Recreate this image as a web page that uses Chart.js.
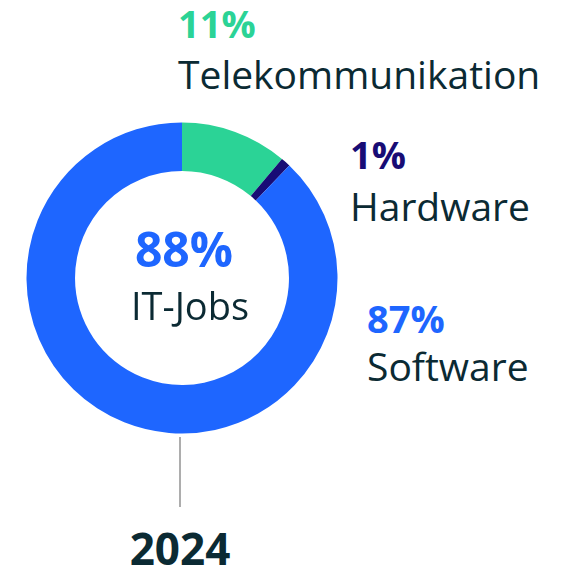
<!DOCTYPE html>
<html>
<head>
<meta charset="utf-8">
<script src="https://cdn.jsdelivr.net/npm/chart.js@4.4.1/dist/chart.umd.min.js"></script>
<style>
  html, body { margin: 0; padding: 0; background: #fff; }
  body { width: 572px; height: 566px; position: relative; overflow: hidden; font-family: "Open Sans", "Noto Sans", sans-serif; color: #0b2a33; }
  #wrap { position: absolute; left: 22px; top: 118px; width: 320px; height: 320px; }
  .lbl { position: absolute; line-height: 1; white-space: nowrap; }
  #tick { position: absolute; left: 179px; top: 437px; width: 2px; height: 70px; background: #adadad; }
</style>
</head>
<body>
<div id="wrap"><canvas id="donut"></canvas></div>
<div id="tick"></div>

<script>
// data
const categories = ['Telekommunikation', 'Hardware', 'Software'];
const shares = [11, 1, 87];
const colors = ['#2bd396', '#180c75', '#1e66ff'];
const totalLabel = '88%';
const totalName = 'IT-Jobs';
const yearLabel = '2024';

// where each label block sits
const labelPos = [
    { left: 178, pctTop: 4, nameTop: 54 },
    { left: 350, pctTop: 135, nameTop: 186 },
    { left: 367, pctTop: 299, nameTop: 346 }
];

function addText(text, css) {
    const d = document.createElement('div');
    d.className = 'lbl';
    d.textContent = text;
    Object.assign(d.style, css);
    document.body.appendChild(d);
    return d;
}

categories.forEach((name, i) => {
    const p = labelPos[i];
    addText(shares[i] + '%', { left: p.left + 'px', top: p.pctTop + 'px', fontSize: '38px', fontWeight: 700, color: colors[i] });
    addText(name, { left: p.left + 'px', top: p.nameTop + 'px', fontSize: '39px' });
});

addText(totalLabel, { left: '84px', width: '200px', textAlign: 'center', top: '225px', fontSize: '48px', fontWeight: 700, color: colors[2] });
addText(totalName, { left: '90px', width: '200px', textAlign: 'center', top: '286px', fontSize: '38px' });
addText(yearLabel, { left: '80px', width: '200px', textAlign: 'center', top: '526px', fontSize: '44px', fontWeight: 700 });

new Chart(document.getElementById('donut').getContext('2d'), {
    type: 'doughnut',
    data: {
        labels: categories,
        datasets: [{
            data: shares,
            backgroundColor: colors,
            borderWidth: 0,
            hoverOffset: 0
        }]
    },
    options: {
        responsive: true,
        maintainAspectRatio: false,
        animation: false,
        cutout: '68.8%',
        layout: { padding: 4.5 },
        plugins: {
            legend: { display: false },
            tooltip: { enabled: false }
        }
    }
});
</script>
</body>
</html>
